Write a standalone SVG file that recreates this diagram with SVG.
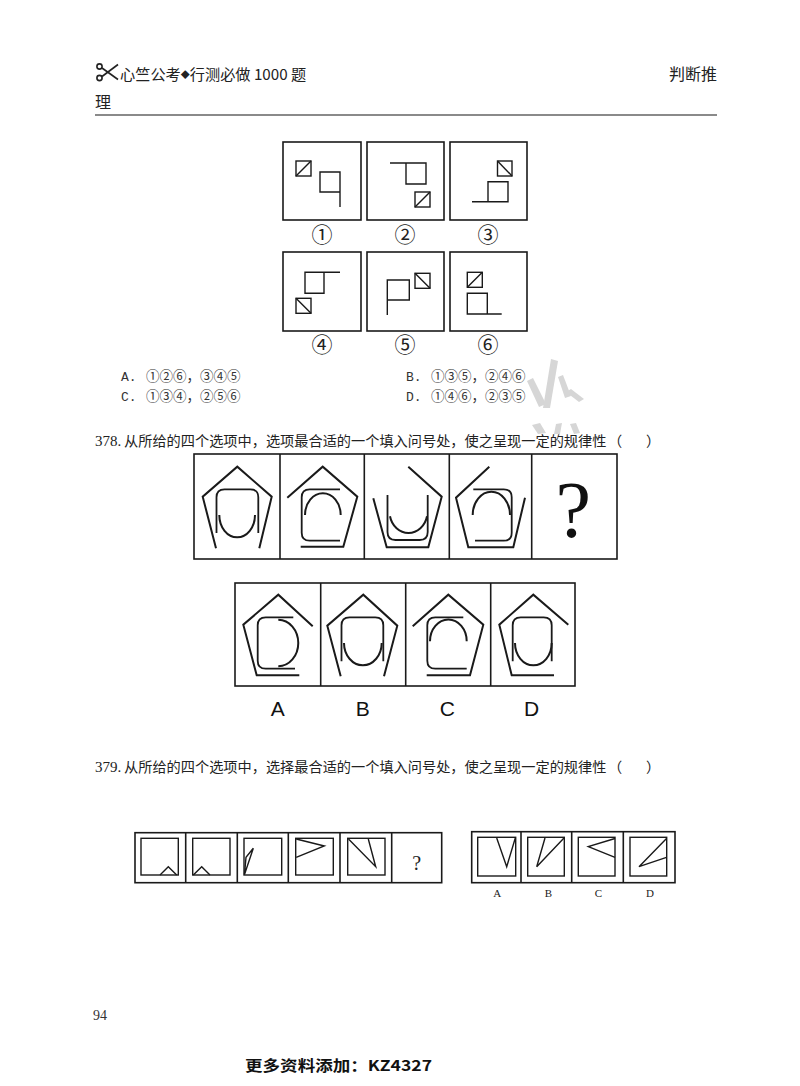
<svg xmlns="http://www.w3.org/2000/svg" width="800" height="1086" viewBox="0 0 800 1086">
<style>
.hdr{font-family:"Noto Sans CJK SC","Noto Sans",sans-serif;font-size:16px;fill:#222}
.q{font-family:"Liberation Serif","Noto Sans CJK SC",serif;font-size:15px;fill:#222}
.qc{font-family:"Noto Sans CJK SC",sans-serif;font-size:14.2px;fill:#222}
.opt{font-family:"Liberation Mono","Noto Sans CJK SC",monospace;font-size:13px;fill:#333}
.cir{font-family:"Noto Sans CJK SC",sans-serif;font-size:13.5px;fill:#333}
.lab{font-family:"Noto Sans CJK SC",sans-serif;font-size:21px;fill:#222;text-anchor:middle}
.big{font-family:"Liberation Sans",Arial,sans-serif;font-size:21px;fill:#111;text-anchor:middle}
.sm{font-family:"Liberation Serif",serif;font-size:11px;fill:#222;text-anchor:middle}
.box{fill:none;stroke:#1a1a1a;stroke-width:1.6}
.ln{fill:none;stroke:#1a1a1a;stroke-width:1.4}
.pent{fill:none;stroke:#1a1a1a;stroke-width:2;stroke-linejoin:miter}
.inr{fill:none;stroke:#1a1a1a;stroke-width:1.8}
.arc{fill:none;stroke:#1a1a1a;stroke-width:2}
.wm{fill:#d6d6d6}
</style>
<rect width="800" height="1086" fill="#ffffff"/>

<g id="watermark">
<polygon class="wm" points="527,381 533,378 546,404 539,407"/>
<polygon class="wm" points="551,359 558,361 550,408 543,408"/>
<polygon class="wm" points="558,377 563,375 571,396 565,398"/>
<polygon class="wm" points="566,392 571,389 584,399 579,402"/>
<polygon class="wm" points="532,425 540,423 546,433 538,434"/>
<polygon class="wm" points="556,424 562,423 560,434 554,434"/>
<polygon class="wm" points="570,424 576,423 580,433 574,434"/>
</g>

<g id="header">
<g fill="none" stroke="#222" stroke-width="1.6">
<circle cx="99.5" cy="66.5" r="2.6"/>
<circle cx="99.5" cy="78" r="2.6"/>
<line x1="102" y1="68" x2="118" y2="79.5"/>
<line x1="102" y1="76.5" x2="118" y2="64.5"/>
</g>
<text class="hdr" x="120" y="80" style="font-size:15.2px">心竺公考<tspan style="font-size:9px" dy="-2">◆</tspan><tspan dy="2">行测必做 1000 题</tspan></text>
<text class="hdr" x="717" y="80" text-anchor="end">判断推</text>
<text class="hdr" x="95" y="108">理</text>
<line x1="95" y1="115" x2="717" y2="115" stroke="#8a8a8a" stroke-width="2"/>
</g>

<g id="q377-fig1">
<rect class="box" x="283" y="142" width="78" height="78"/>
<rect class="ln" x="296" y="161" width="15" height="15"/>
<line class="ln" x1="296" y1="176" x2="311" y2="161"/>
<path class="ln" d="M340,207 V172 H320 V192 H340"/>
<text class="lab" x="322" y="242">①</text>
</g>
<g id="q377-fig2">
<rect class="box" x="367" y="142" width="77" height="78"/>
<path class="ln" d="M390,163 H426 V184 H406 V163"/>
<rect class="ln" x="415" y="192" width="15" height="15"/>
<line class="ln" x1="415" y1="207" x2="430" y2="192"/>
<text class="lab" x="405" y="242">②</text>
</g>
<g id="q377-fig3">
<rect class="box" x="450" y="142" width="77" height="78"/>
<rect class="ln" x="497.5" y="161" width="14.5" height="15"/>
<line class="ln" x1="497.5" y1="161" x2="512" y2="176"/>
<path class="ln" d="M472,201.7 H508 V181.7 H488 V201.7"/>
<text class="lab" x="488" y="242">③</text>
</g>
<g id="q377-fig4">
<rect class="box" x="283" y="252" width="78" height="79"/>
<path class="ln" d="M340,272.3 H305 V293.3 H324 V272.3"/>
<rect class="ln" x="296" y="298.3" width="15" height="15"/>
<line class="ln" x1="296" y1="298.3" x2="311" y2="313.3"/>
<text class="lab" x="322" y="352">④</text>
</g>
<g id="q377-fig5">
<rect class="box" x="367" y="252" width="77" height="79"/>
<path class="ln" d="M387.3,315 V280 H409.3 V300 H387.3"/>
<rect class="ln" x="415" y="273.3" width="15" height="15"/>
<line class="ln" x1="415" y1="273.3" x2="430" y2="288.3"/>
<text class="lab" x="405" y="352">⑤</text>
</g>
<g id="q377-fig6">
<rect class="box" x="450" y="252" width="77" height="79"/>
<rect class="ln" x="467.3" y="272.3" width="15" height="15"/>
<line class="ln" x1="467.3" y1="287.3" x2="482.3" y2="272.3"/>
<path class="ln" d="M501.7,314 H467.3 V293.3 H487.3 V314"/>
<text class="lab" x="488" y="352">⑥</text>
</g>

<g id="q377-options">
<text class="opt" x="121" y="381">A.</text>
<text class="cir" x="146" y="381">①②⑥，③④⑤</text>
<text class="opt" x="406" y="381">B.</text>
<text class="cir" x="431" y="381">①③⑤，②④⑥</text>
<text class="opt" x="121" y="401">C.</text>
<text class="cir" x="146" y="401">①③④，②⑤⑥</text>
<text class="opt" x="406" y="401">D.</text>
<text class="cir" x="431" y="401">①④⑥，②③⑤</text>
</g>

<g id="q378-title">
<text class="q" x="95" y="446">378.</text>
<text class="qc" x="124" y="446">从所给的四个选项中，选项最合适的一个填入问号处，使之呈现一定的规律性</text>
<text class="qc" x="608" y="446">（</text>
<text class="qc" x="646" y="446">）</text>
</g>

<g id="q378-question">
<rect class="box" x="194" y="454" width="423" height="105" stroke-width="2"/>
<line class="box" x1="280" y1="454" x2="280" y2="559" stroke-width="1.8"/>
<line class="box" x1="364.3" y1="454" x2="364.3" y2="559" stroke-width="1.8"/>
<line class="box" x1="449.3" y1="454" x2="449.3" y2="559" stroke-width="1.8"/>
<line class="box" x1="531.7" y1="454" x2="531.7" y2="559" stroke-width="1.8"/>
</g>
<g id="q378-cell1">
<path class="pent" d="M216,548.3 L202.7,496.7 L237.3,466.7 L271.7,496.7 L259.3,548.3"/>
<path class="inr" d="M216.5,533 V497.3 Q216.5,489.3 224.5,489.3 H250.3 Q258.3,489.3 258.3,497.3 V533"/>
<path class="arc" d="M219.3,515 A17.85,22.3 0 0 0 255,515"/>
</g>
<g id="q378-cell2">
<path class="pent" d="M287.3,497.7 L322.7,466.7 L357.3,496.7 L343.3,546.7 L300.7,546.7"/>
<path class="inr" d="M340,489.3 H309.7 Q301.7,489.3 301.7,497.3 V532.7 Q301.7,540.7 309.7,540.7 H340"/>
<path class="arc" d="M305,515 A17.85,21.7 0 0 1 340.7,515"/>
</g>
<g id="q378-cell3">
<path class="pent" d="M408.3,466.7 L441.7,496.7 L428.3,547.3 L386.7,547.3 L373.3,498.3"/>
<path class="inr" d="M387.5,495 V532 Q387.5,540 395.5,540 H419.7 Q427.7,540 427.7,532 V495"/>
<path class="arc" d="M390,516.3 A18.9,21 0 0 0 427,516.3"/>
</g>
<g id="q378-cell4">
<path class="pent" d="M489.3,466.7 L456,497.7 L468.3,547.3 L513.3,547.3 L525,497.7"/>
<path class="inr" d="M473.3,489.3 H503.7 Q511.7,489.3 511.7,497.3 V532.7 Q511.7,540.7 503.7,540.7 H475"/>
<path class="arc" d="M472.7,515 A18.65,23.3 0 0 1 510,515"/>
</g>
<g id="q378-cell5">
<text x="573.3" y="537" font-family="Liberation Serif,serif" font-size="80" text-anchor="middle" fill="#111">?</text>
</g>

<g id="q378-options">
<rect class="box" x="235" y="583" width="340" height="103" stroke-width="2"/>
<line class="box" x1="320.7" y1="583" x2="320.7" y2="686" stroke-width="1.8"/>
<line class="box" x1="405.7" y1="583" x2="405.7" y2="686" stroke-width="1.8"/>
<line class="box" x1="490.7" y1="583" x2="490.7" y2="686" stroke-width="1.8"/>
</g>
<g id="q378-optA">
<path class="pent" d="M312.7,626.3 L278.3,594.7 L243.3,624.7 L256.7,675.3 L299.3,675.3"/>
<path class="inr" d="M293.3,617.3 H265.7 Q257.7,617.3 257.7,625.3 V660.7 Q257.7,668.7 265.7,668.7 H295"/>
<path class="arc" d="M278.3,619.7 A20,23.3 0 0 1 278.3,666.3"/>
<text class="big" x="277.7" y="716">A</text>
</g>
<g id="q378-optB">
<path class="pent" d="M340.7,676.3 L327.3,625.7 L363.3,594.7 L397.3,625.7 L384,676.3"/>
<path class="inr" d="M341.5,661.3 V625.3 Q341.5,617.3 349.5,617.3 H375.3 Q383.3,617.3 383.3,625.3 V661.3"/>
<path class="arc" d="M344,643 A18.85,22.3 0 0 0 381.7,643"/>
<text class="big" x="362.7" y="716">B</text>
</g>
<g id="q378-optC">
<path class="pent" d="M412.7,626.3 L448.3,594.7 L483.3,624.7 L470,675.3 L426.7,675.3"/>
<path class="inr" d="M463.3,617.3 H435.3 Q427.3,617.3 427.3,625.3 V660.7 Q427.3,668.7 435.3,668.7 H466.7"/>
<path class="arc" d="M430,641.3 A18.35,21.7 0 0 1 466.7,641.3"/>
<text class="big" x="447.3" y="716">C</text>
</g>
<g id="q378-optD">
<path class="pent" d="M568.3,624.7 L533.3,594.7 L499.3,624.7 L511.7,675.3 L554,675.3"/>
<path class="inr" d="M512.7,661.3 V625.3 Q512.7,617.3 520.7,617.3 H543.7 Q551.7,617.3 551.7,625.3 V661.3"/>
<path class="arc" d="M515,643 A18.35,22.3 0 0 0 551.7,643"/>
<text class="big" x="531.7" y="716">D</text>
</g>

<g id="q379-title">
<text class="q" x="95" y="772">379.</text>
<text class="qc" x="124" y="772">从所给的四个选项中，选择最合适的一个填入问号处，使之呈现一定的规律性</text>
<text class="qc" x="608" y="772">（</text>
<text class="qc" x="646" y="772">）</text>
</g>

<g id="q379-question">
<rect class="box" x="135" y="832.7" width="306.7" height="50"/>
<line class="box" x1="185.7" y1="832.7" x2="185.7" y2="882.7"/>
<line class="box" x1="237.3" y1="832.7" x2="237.3" y2="882.7"/>
<line class="box" x1="288.3" y1="832.7" x2="288.3" y2="882.7"/>
<line class="box" x1="340" y1="832.7" x2="340" y2="882.7"/>
<line class="box" x1="391.7" y1="832.7" x2="391.7" y2="882.7"/>
</g>
<g id="q379-cell1">
<rect class="ln" x="141" y="838.3" width="37.3" height="36.7"/>
<polyline class="ln" points="160,875 168.3,866.7 176.7,875"/>
</g>
<g id="q379-cell2">
<rect class="ln" x="192.7" y="838.3" width="37.3" height="36.7"/>
<polyline class="ln" points="193.3,875 201.7,866.7 210,875"/>
</g>
<g id="q379-cell3">
<rect class="ln" x="244" y="838.3" width="37.7" height="36.7"/>
<polygon class="ln" points="244.5,874.5 253.3,848.3 246,857.3"/>
</g>
<g id="q379-cell4">
<rect class="ln" x="295.7" y="838.3" width="37.6" height="36.7"/>
<polyline class="ln" points="296.2,839 324.3,846 296.2,857.3"/>
</g>
<g id="q379-cell5">
<rect class="ln" x="347.7" y="838.3" width="37.3" height="36.7"/>
<polyline class="ln" points="348.5,839 375.7,866.7 368.3,839"/>
</g>
<g id="q379-cell6">
<text x="416.7" y="870" font-family="Liberation Serif,serif" font-size="20" text-anchor="middle" fill="#222">?</text>
</g>

<g id="q379-options">
<rect class="box" x="471.7" y="831.7" width="203.3" height="51"/>
<line class="box" x1="521" y1="831.7" x2="521" y2="882.7"/>
<line class="box" x1="571.7" y1="831.7" x2="571.7" y2="882.7"/>
<line class="box" x1="623.3" y1="831.7" x2="623.3" y2="882.7"/>
</g>
<g id="q379-optA">
<rect class="ln" x="477.7" y="837.3" width="38" height="38.7"/>
<polyline class="ln" points="496.7,838 506.7,866.7 515.3,838"/>
<text class="sm" x="497.3" y="897">A</text>
</g>
<g id="q379-optB">
<rect class="ln" x="527.7" y="837.3" width="36.6" height="38.7"/>
<polyline class="ln" points="545,838 536.7,866.7 564,838"/>
<text class="sm" x="548.3" y="897">B</text>
</g>
<g id="q379-optC">
<rect class="ln" x="578.3" y="837.3" width="36.7" height="38.7"/>
<polyline class="ln" points="615,838.5 588.3,846.7 615,857.3"/>
<text class="sm" x="598.3" y="897">C</text>
</g>
<g id="q379-optD">
<rect class="ln" x="630" y="837.3" width="36.7" height="38.7"/>
<polyline class="ln" points="666.5,838.5 639,866.7 666.5,857.3"/>
<text class="sm" x="650" y="897">D</text>
</g>

<g id="footer">
<text x="93" y="1020" font-family="Liberation Serif,serif" font-size="14" fill="#333">94</text>
<text x="245" y="1071" font-family="'Noto Sans CJK SC',sans-serif" font-size="15" font-weight="700" fill="#111" textLength="187" lengthAdjust="spacingAndGlyphs">更多资料添加：KZ4327</text>
</g>
</svg>
